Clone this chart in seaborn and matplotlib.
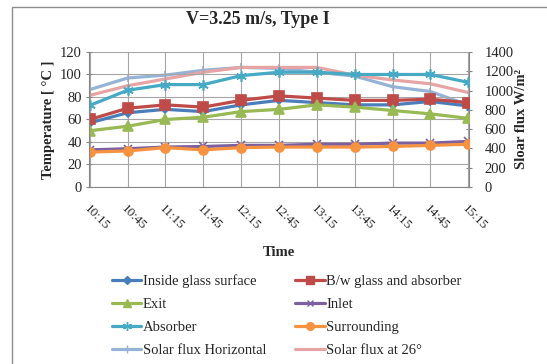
import pandas as pd
import seaborn as sns
import matplotlib.pyplot as plt
from matplotlib.lines import Line2D

# data
times = ['10:15', '10:45', '11:15', '11:45', '12:15', '12:45', '13:15', '13:45', '14:15', '14:45', '15:15']
inside_glass = [57, 66, 69, 67, 73, 77, 75, 73, 73, 76, 72]
bw_glass_absorber = [60, 70, 73, 71, 77, 81, 79, 77, 77, 78, 75]
exit_temp = [50, 54, 60, 62, 67, 69, 73, 71, 68, 65, 61]
inlet = [33, 34, 35.5, 36, 37, 37, 38, 38, 39, 39, 40.5]
absorber = [72.5, 86, 91, 91, 99, 102, 102, 100, 100, 100, 93]
surrounding = [31, 32, 35, 33, 35, 35.5, 35.5, 35.5, 36, 37, 38]
flux_horizontal = [1010, 1130, 1160, 1210, 1240, 1230, 1190, 1150, 1040, 990, 850]
flux_26 = [950, 1050, 1120, 1190, 1240, 1240, 1240, 1160, 1110, 1070, 980]

sns.set_style('white')
plt.rcParams['font.family'] = ['Liberation Serif', 'DejaVu Serif']

df = pd.DataFrame({'Time': times,
                   'Inside glass surface': inside_glass,
                   'B/w glass and absorber': bw_glass_absorber,
                   'Exit': exit_temp,
                   'Inlet': inlet,
                   'Absorber': absorber,
                   'Surrounding': surrounding,
                   'Solar flux Horizontal': flux_horizontal,
                   'Solar flux at 26°': flux_26})

fig = plt.figure(figsize=(5.47, 3.64), dpi=100)
ax = fig.add_axes([0.1627, 0.4863, 0.6947, 0.3709])
ax2 = ax.twinx()

# (column, colour, marker, marker size)
temp_series = [
    ('Inside glass surface', '#4A7EBB', 'D', 4.5),
    ('B/w glass and absorber', '#BE4B48', 's', 6.5),
    ('Exit', '#98B954', '^', 6.5),
    ('Inlet', '#7D60A0', 'x', 5.5),
    ('Absorber', '#46AAC5', (6, 2, 0), 7.5),
    ('Surrounding', '#F69240', 'o', 6.5),
]
flux_series = [
    ('Solar flux Horizontal', '#95B3D7', '|', 6),
    ('Solar flux at 26°', '#E6A5A4', None, 0),
]

handles = {}
for ax_, series in [(ax2, flux_series), (ax, temp_series)]:
    for col, c, m, ms in series:
        sns.lineplot(data=df, x='Time', y=col, ax=ax_, color=c, lw=2.3,
                     marker=m, markersize=ms, markeredgecolor=c, markeredgewidth=1.2,
                     sort=False, legend=False)
        handles[col] = Line2D([], [], color=c, lw=2.3, marker=m,
                              markersize=ms * 0.85, markeredgecolor=c)

ax.set_zorder(ax2.get_zorder() + 1)
ax.patch.set_visible(False)

ax.set_ylim(0, 120)
ax.set_yticks(range(0, 121, 20))
ax2.set_ylim(0, 1400)
ax2.set_yticks(range(0, 1401, 200))
ax.set_xlim(-0.02, len(times) - 1 + 0.02)

ax.grid(True, color='#A6A6A6', lw=0.8)
ax.set_axisbelow(True)
for s in ['top', 'right']:
    ax.spines[s].set_visible(False)
for s in ['top', 'right', 'left', 'bottom']:
    ax2.spines[s].set_visible(False)
ax.spines['left'].set_color('#868686')
ax.spines['bottom'].set_color('#868686')
ax2.spines['right'].set_visible(True)
ax2.spines['right'].set_color('#868686')

ax.tick_params(axis='y', length=4, direction='inout', color='#868686', labelsize=10.5, pad=3)
ax.tick_params(axis='x', length=4, direction='inout', color='#868686', labelsize=9.5, pad=9)
ax2.tick_params(axis='y', length=4, direction='inout', color='#868686', labelsize=10.5, pad=9)
for lab in ax.get_xticklabels():
    lab.set_rotation(-45)
    lab.set_ha('left')
    lab.set_rotation_mode('anchor')

ax.set_xlabel('Time', fontsize=10.5, fontweight='bold', labelpad=10)
ax.set_ylabel('Temperature [ °C ]', fontsize=10.5, fontweight='bold', labelpad=4)
ax2.set_ylabel('Sloar flux W/m²', fontsize=10.5, fontweight='bold', labelpad=1)
fig.text(258 / 547, 1 - 20 / 364, 'V=3.25 m/s, Type I', fontsize=13, fontweight='bold',
         ha='center', va='center')

order = ['Inside glass surface', 'Exit', 'Absorber', 'Solar flux Horizontal',
         'B/w glass and absorber', 'Inlet', 'Surrounding', 'Solar flux at 26°']
fig.legend([handles[k] for k in order], order, ncol=2, loc='upper left',
           bbox_to_anchor=(0.205, 1 - 274 / 364), frameon=False, fontsize=10.5,
           handlelength=2.0, handletextpad=0.1, columnspacing=2.0,
           labelspacing=0.68, borderaxespad=0, borderpad=0)

# chart frame
fig.add_artist(plt.Rectangle((12 / 547, -0.2), 1.0, 1.2 - 7 / 364, transform=fig.transFigure,
                             fill=False, edgecolor='#8C8C8C', lw=1))

fig.savefig('out.png', dpi=100)
